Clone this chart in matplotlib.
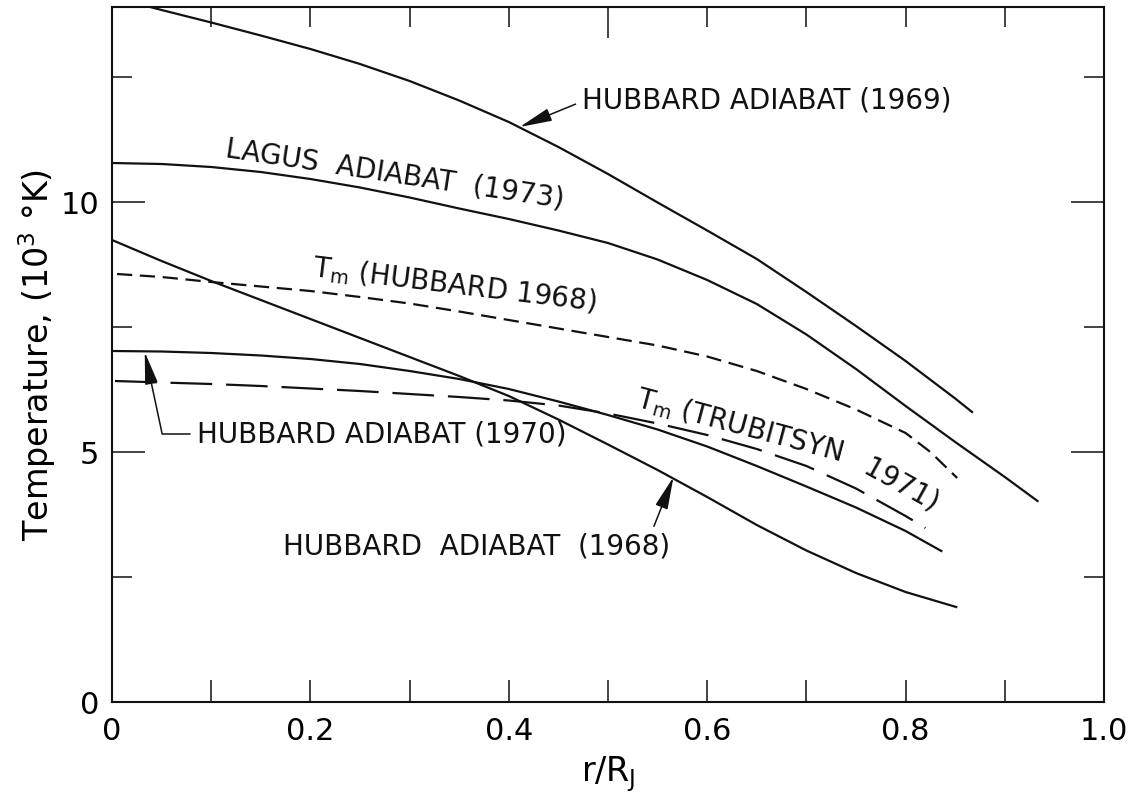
import matplotlib
matplotlib.use('Agg')
import matplotlib.pyplot as plt
from matplotlib.ticker import FixedLocator

plt.rcParams['font.family'] = ['DejaVu Sans']
plt.rcParams['mathtext.fontset'] = 'dejavusans'
plt.rcParams['lines.scale_dashes'] = False

# r/R_J versus temperature (10^3 K)
hub69_r = [0.0, 0.05, 0.10, 0.15, 0.20, 0.25, 0.30, 0.35, 0.40, 0.45,
           0.50, 0.55, 0.60, 0.65, 0.70, 0.75, 0.80, 0.85, 0.867]
hub69_t = [14.1, 13.84, 13.59, 13.33, 13.06, 12.76, 12.42, 12.03, 11.60, 11.10,
           10.56, 9.99, 9.43, 8.86, 8.20, 7.52, 6.82, 6.07, 5.8]

lagus_r = [0.0, 0.05, 0.10, 0.15, 0.20, 0.25, 0.30, 0.35, 0.40, 0.45,
           0.50, 0.55, 0.60, 0.65, 0.70, 0.75, 0.80, 0.85, 0.90, 0.933]
lagus_t = [10.78, 10.76, 10.70, 10.60, 10.46, 10.29, 10.09, 9.87, 9.66, 9.43,
           9.18, 8.85, 8.44, 7.96, 7.35, 6.66, 5.92, 5.20, 4.50, 4.02]

hub68_r = [0.0, 0.05, 0.10, 0.15, 0.20, 0.25, 0.30, 0.35, 0.40, 0.45,
           0.50, 0.55, 0.60, 0.65, 0.70, 0.75, 0.80, 0.851]
hub68_t = [9.24, 8.82, 8.42, 8.04, 7.66, 7.28, 6.90, 6.52, 6.12, 5.65,
           5.15, 4.64, 4.10, 3.54, 3.03, 2.58, 2.20, 1.90]

hub70_r = [0.0, 0.05, 0.10, 0.15, 0.20, 0.25, 0.30, 0.35, 0.40, 0.45,
           0.50, 0.55, 0.60, 0.65, 0.70, 0.75, 0.80, 0.836]
hub70_t = [7.02, 7.01, 6.98, 6.93, 6.86, 6.76, 6.62, 6.46, 6.26, 6.01,
           5.74, 5.45, 5.11, 4.72, 4.31, 3.89, 3.42, 3.02]

tm_hub_r = [0.005, 0.05, 0.10, 0.15, 0.20, 0.25, 0.30, 0.35, 0.40, 0.45,
            0.50, 0.55, 0.60, 0.65, 0.70, 0.75, 0.80, 0.825, 0.852]
tm_hub_t = [8.56, 8.50, 8.40, 8.31, 8.22, 8.10, 7.97, 7.81, 7.64, 7.47,
            7.30, 7.13, 6.91, 6.62, 6.26, 5.85, 5.38, 5.00, 4.48]

tm_tru_r = [0.003, 0.05, 0.10, 0.15, 0.20, 0.25, 0.30, 0.35, 0.40, 0.45,
            0.50, 0.55, 0.60, 0.65, 0.70, 0.75, 0.80, 0.82]
tm_tru_t = [6.42, 6.39, 6.36, 6.32, 6.27, 6.22, 6.16, 6.10, 6.03, 5.93,
            5.77, 5.57, 5.34, 5.06, 4.72, 4.27, 3.72, 3.48]

x_major = [0.0, 0.2, 0.4, 0.6, 0.8, 1.0]
x_labels = ['0', '0.2', '0.4', '0.6', '0.8', '1.0']
x_minor = [0.1, 0.3, 0.5, 0.7, 0.9]
top_major = [0.5]
top_minor = [0.1, 0.2, 0.3, 0.4, 0.6, 0.7, 0.8, 0.9]
y_major = [0, 5, 10]
y_minor = [2.5, 7.5, 12.5]

ink = '#111111'

fig = plt.figure(figsize=(11.36, 8.01), dpi=100)
ax = fig.add_axes([112 / 1136, 1 - 702 / 801, 992 / 1136, 695 / 801])

ax.plot(hub69_r, hub69_t, color=ink, lw=1.6)
ax.plot(lagus_r, lagus_t, color=ink, lw=1.6)
ax.plot(hub68_r, hub68_t, color=ink, lw=1.6)
ax.plot(hub70_r, hub70_t, color=ink, lw=1.6)
ax.plot(tm_hub_r, tm_hub_t, color=ink, lw=1.6, dashes=(11, 5.5))
ax.plot(tm_tru_r, tm_tru_t, color=ink, lw=1.6, dashes=(30, 10))

ax.set_xlim(0, 1.0)
ax.set_ylim(0, 13.9)

for sp in ax.spines.values():
    sp.set_linewidth(1.5)
    sp.set_color(ink)

ax.xaxis.set_major_locator(FixedLocator(x_major))
ax.xaxis.set_minor_locator(FixedLocator(x_minor))
ax.set_xticklabels(x_labels)
ax.yaxis.set_major_locator(FixedLocator(y_major))
ax.yaxis.set_minor_locator(FixedLocator(y_minor))
ax.tick_params(axis='x', which='both', direction='in', length=16, width=1.1,
               color=ink, labelsize=22, pad=11, top=False)
ax.tick_params(axis='y', which='major', direction='in', length=24, width=1.1,
               color=ink, labelsize=22, pad=9, right=True)
ax.tick_params(axis='y', which='minor', direction='in', length=14.5, width=1.1,
               color=ink, right=True)

top = ax.secondary_xaxis('top')
top.xaxis.set_major_locator(FixedLocator(top_major))
top.xaxis.set_minor_locator(FixedLocator(top_minor))
top.tick_params(which='major', direction='in', length=22, width=1.1, color=ink,
                labeltop=False)
top.tick_params(which='minor', direction='in', length=14.5, width=1.1, color=ink)
top.spines['top'].set_visible(False)

ax.set_xlabel(r'r/R$_\mathrm{J}$', fontsize=24, labelpad=6)
ax.set_ylabel(r'Temperature, (10$^3$ °K)', fontsize=24, labelpad=2)

head = dict(arrowstyle='-|>,head_length=1.0,head_width=0.2', mutation_scale=20,
            color=ink, lw=1.1, shrinkA=3, shrinkB=0)

ax.annotate('HUBBARD ADIABAT (1969)', xy=(0.411, 11.5), xytext=(0.474, 12.04),
            fontsize=20, ha='left', va='center', color=ink,
            arrowprops=dict(head, relpos=(0.0, 0.45)))
ax.annotate('HUBBARD ADIABAT (1970)', xy=(0.033, 7.0), xytext=(0.0857, 5.36),
            fontsize=20, ha='left', va='center', color=ink,
            arrowprops=dict(head, relpos=(0.0, 0.5),
                            connectionstyle='angle,angleA=0,angleB=102,rad=0'))
ax.annotate('HUBBARD  ADIABAT  (1968)', xy=(0.566, 4.5), xytext=(0.368, 3.1),
            fontsize=20, ha='center', va='center', color=ink,
            arrowprops=dict(head, relpos=(0.95, 1.0)))

ax.text(0.285, 10.55, 'LAGUS  ADIABAT  (1973)', fontsize=20, rotation=-8.6,
        rotation_mode='anchor', ha='center', va='center', color=ink)
ax.text(0.345, 8.33, r'T$_\mathrm{m}$ (HUBBARD 1968)', fontsize=20, rotation=-7.0,
        rotation_mode='anchor', ha='center', va='center', color=ink)
ax.text(0.632, 5.52, r'T$_\mathrm{m}$ (TRUBITSYN', fontsize=20, rotation=-15,
        rotation_mode='anchor', ha='center', va='center', color=ink)
ax.text(0.796, 4.33, '1971)', fontsize=20, rotation=-29,
        rotation_mode='anchor', ha='center', va='center', color=ink)

fig.savefig('out.png', dpi=100)
